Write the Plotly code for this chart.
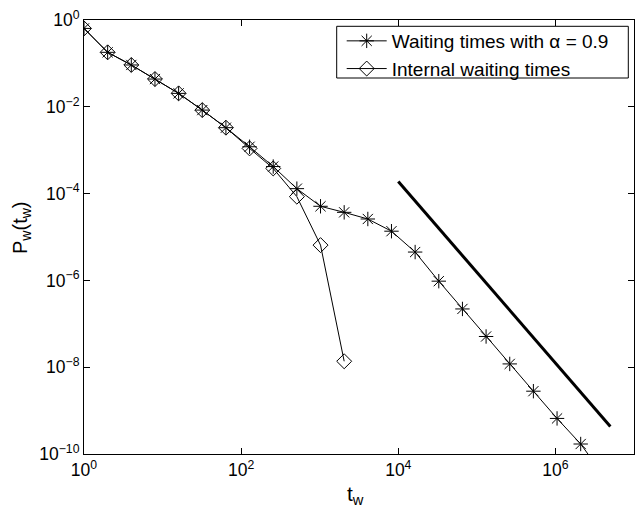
import plotly.graph_objects as go

# Data (log-log)
t_star = [2**k for k in range(23)]
p_star = [0.64, 0.18, 0.092, 0.0436, 0.0204, 0.0084, 0.0033, 0.0012, 4.2e-4, 1.3e-4,
          5.1e-5, 3.7e-5, 2.6e-5, 1.36e-5, 4.5e-6, 9.6e-7, 2.2e-7, 5.1e-8, 1.19e-8,
          2.8e-9, 6.6e-10, 1.7e-10, 3.0e-11]

t_diam = [2**k for k in range(12)]
p_diam = [0.64, 0.18, 0.092, 0.0436, 0.0204, 0.0084, 0.0033, 0.0011, 3.8e-4, 8.5e-5,
          6.5e-6, 1.37e-8]

t_ref = [1e4, 5e6]
p_ref = [1.9e-4, 4.3e-10]

x_tickvals = [1, 1e2, 1e4, 1e6]
x_ticktext = ["10<sup>0</sup>", "10<sup>2</sup>", "10<sup>4</sup>", "10<sup>6</sup>"]
y_tickvals = [1, 1e-2, 1e-4, 1e-6, 1e-8, 1e-10]
y_ticktext = ["10<sup>0</sup>", "10<sup>−2</sup>", "10<sup>−4</sup>", "10<sup>−6</sup>",
              "10<sup>−8</sup>", "10<sup>−10</sup>"]

FONT = "Liberation Sans, Arial, Helvetica, sans-serif"

# layout geometry (pixels)
W, H = 638, 512
L, R, T, B = 84, 4, 20, 58
PW, PH = W - L - R, H - T - B


def px(x):
    return (x - L) / PW


def py(y):
    return (H - B - y) / PH


fig = go.Figure()
fig.add_trace(go.Scatter(
    x=t_star, y=p_star, mode="lines+markers", name="Waiting times with α = 0.9",
    line=dict(color="black", width=1),
    marker=dict(symbol="asterisk-open", size=12, color="black",
                line=dict(color="black", width=1))))
fig.add_trace(go.Scatter(
    x=t_diam, y=p_diam, mode="lines+markers", name="Internal waiting times",
    line=dict(color="black", width=1),
    marker=dict(symbol="diamond-open", size=11.5, color="black",
                line=dict(color="black", width=1))))
fig.add_trace(go.Scatter(
    x=t_ref, y=p_ref, mode="lines", showlegend=False,
    line=dict(color="black", width=3)))

axis_common = dict(
    type="log", showgrid=False, zeroline=False,
    showline=True, linecolor="black", linewidth=1, mirror="allticks",
    ticks="inside", ticklen=6, tickcolor="black", tickwidth=1,
    tickfont=dict(family=FONT, size=17.5, color="black"),
)

fig.update_layout(
    width=W, height=H,
    margin=dict(l=L, r=R, t=T, b=B),
    paper_bgcolor="white", plot_bgcolor="white",
    font=dict(family=FONT, size=17, color="black"),
    xaxis=dict(axis_common, range=[0, 7], tickvals=x_tickvals, ticktext=x_ticktext),
    yaxis=dict(axis_common, range=[-10, 0], tickvals=y_tickvals, ticktext=y_ticktext),
    legend=dict(x=px(341.7), y=py(22), xanchor="left", yanchor="top",
                borderwidth=0, bgcolor="rgba(0,0,0,0)",
                font=dict(family=FONT, size=19), tracegroupgap=0,
                itemwidth=40),
    showlegend=True,
    shapes=[dict(type="rect", xref="paper", yref="paper",
                 x0=px(336.7), x1=px(628.3), y0=py(78), y1=py(26.3),
                 line=dict(color="black", width=1), fillcolor="white", layer="above")],
    annotations=[
        dict(text="t<sub>w</sub>", xref="paper", yref="paper", x=px(355), y=py(495),
             xanchor="center", yanchor="middle", showarrow=False,
             font=dict(family=FONT, size=21, color="black")),
        dict(text="P<sub>w</sub>(t<sub>w</sub>)", xref="paper", yref="paper",
             x=px(21), y=py(228), xanchor="center", yanchor="middle", textangle=-90,
             showarrow=False, font=dict(family=FONT, size=20, color="black")),
    ],
)

fig.write_html("out.html")
